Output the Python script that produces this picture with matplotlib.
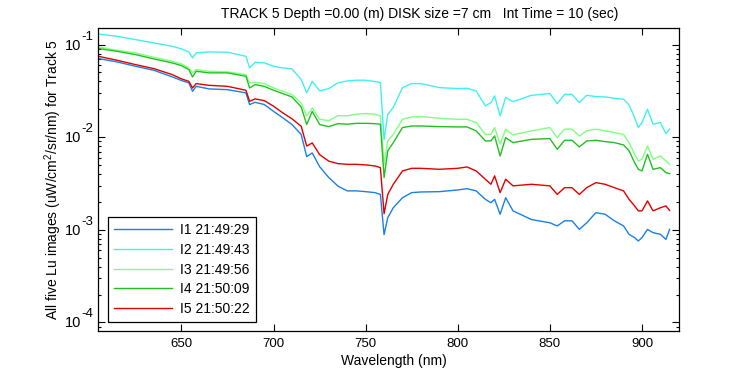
import matplotlib
matplotlib.use("Agg")
import matplotlib.pyplot as plt
import matplotlib.transforms as mtransforms
from matplotlib.ticker import LogLocator, FixedLocator, NullFormatter, NullLocator

plt.rcParams['font.family'] = ['Liberation Sans', 'DejaVu Sans']
plt.rcParams['mathtext.fontset'] = 'custom'
plt.rcParams['mathtext.rm'] = 'Liberation Sans'
plt.rcParams['mathtext.it'] = 'Liberation Sans'
plt.rcParams['mathtext.default'] = 'regular'

wavelength = [605, 615, 625, 635, 645, 650, 654, 656, 658, 665, 675, 685, 687, 690,
              695, 700, 705, 710, 715, 718, 721, 725, 730, 735, 740, 745, 750, 755,
              758, 760, 762, 765, 770, 775, 780, 790, 800, 805, 810, 815, 818, 820,
              823, 826, 830, 840, 850, 854, 858, 862, 866, 870, 875, 880, 885, 890,
              893, 896, 898, 900, 903, 906, 910, 913, 915]

i1 = [0.0706, 0.0650, 0.0583, 0.0528, 0.0448, 0.0409, 0.0386, 0.0313, 0.0354, 0.0332,
      0.0326, 0.0301, 0.0225, 0.0238, 0.0225, 0.0190, 0.0162, 0.0137, 0.0107, 0.00617,
      0.00676, 0.00481, 0.00366, 0.00296, 0.00263, 0.00263, 0.00258, 0.00252, 0.00241,
      0.000886, 0.00135, 0.00173, 0.00222, 0.00252, 0.00256, 0.00258, 0.00269, 0.00278,
      0.00263, 0.00213, 0.00196, 0.00213, 0.00147, 0.00222, 0.00160, 0.00129, 0.00119,
      0.00110, 0.00125, 0.00125, 0.00101, 0.00119, 0.00153, 0.00147, 0.00125, 0.00110,
      0.000893, 0.000823, 0.000757, 0.000823, 0.00101, 0.000931, 0.000893, 0.000788,
      0.00101]

i2 = [0.1298, 0.1229, 0.1132, 0.1043, 0.0959, 0.0899, 0.0834, 0.0718, 0.0813, 0.0834,
      0.0826, 0.0747, 0.0560, 0.0644, 0.0634, 0.0583, 0.0560, 0.0546, 0.0419, 0.0301,
      0.0401, 0.0316, 0.0335, 0.0386, 0.0405, 0.0412, 0.0412, 0.0399, 0.0389, 0.00941,
      0.01766, 0.0209, 0.0343, 0.0379, 0.0379, 0.0343, 0.0335, 0.0337, 0.0316, 0.0218,
      0.0236, 0.0279, 0.0170, 0.0268, 0.0242, 0.0283, 0.0296, 0.0230, 0.0290, 0.0290,
      0.0236, 0.0283, 0.0274, 0.0272, 0.0263, 0.0257, 0.0223, 0.0163, 0.0127, 0.0144,
      0.0200, 0.0138, 0.0144, 0.0109, 0.0122]

i3 = [0.0940, 0.0868, 0.0813, 0.0729, 0.0660, 0.0619, 0.0560, 0.0495, 0.0537, 0.0515,
      0.0507, 0.0474, 0.0386, 0.0391, 0.0379, 0.0340, 0.0313, 0.0288, 0.0234, 0.0169,
      0.0207, 0.0156, 0.0151, 0.0171, 0.0170, 0.0177, 0.0180, 0.0177, 0.0170, 0.00505,
      0.00911, 0.01074, 0.0156, 0.0166, 0.0167, 0.0160, 0.0156, 0.0156, 0.0144, 0.0107,
      0.0107, 0.0127, 0.00838, 0.0122, 0.0106, 0.0117, 0.0127, 0.00989, 0.0122, 0.0122,
      0.0103, 0.0117, 0.0122, 0.0117, 0.0112, 0.0107, 0.00873, 0.00653, 0.00554, 0.00577,
      0.00805, 0.00577, 0.00627, 0.00554, 0.00509]

i4 = [0.0905, 0.0846, 0.0780, 0.0700, 0.0634, 0.0593, 0.0537, 0.0448, 0.0515, 0.0495,
      0.0495, 0.0455, 0.0340, 0.0370, 0.0354, 0.0321, 0.0296, 0.0272, 0.0212, 0.0137,
      0.0190, 0.0137, 0.0130, 0.0140, 0.0138, 0.0141, 0.0141, 0.0140, 0.0138, 0.00366,
      0.00711, 0.00873, 0.0127, 0.0132, 0.0132, 0.0130, 0.0129, 0.0129, 0.0117, 0.00911,
      0.00911, 0.0103, 0.00627, 0.00989, 0.00873, 0.00948, 0.00965, 0.00740, 0.00925,
      0.00925, 0.00785, 0.00911, 0.00925, 0.00896, 0.00873, 0.00825, 0.00711, 0.00531,
      0.00450, 0.00432, 0.00653, 0.00450, 0.00469, 0.00414, 0.00404]

i5 = [0.0747, 0.0677, 0.0608, 0.0550, 0.0474, 0.0426, 0.0401, 0.0340, 0.0379, 0.0363,
      0.0354, 0.0321, 0.0244, 0.0259, 0.0248, 0.0216, 0.0183, 0.0158, 0.0131, 0.00801,
      0.00867, 0.00648, 0.00551, 0.00518, 0.00509, 0.00509, 0.00502, 0.00489, 0.00469,
      0.00149, 0.00241, 0.00310, 0.00432, 0.00461, 0.00461, 0.00450, 0.00461, 0.00477,
      0.00432, 0.00351, 0.00310, 0.00382, 0.00252, 0.00351, 0.00298, 0.00310, 0.00298,
      0.00241, 0.00285, 0.00285, 0.00241, 0.00285, 0.00323, 0.00310, 0.00285, 0.00263,
      0.00213, 0.00181, 0.00160, 0.00160, 0.00205, 0.00160, 0.00173, 0.00181, 0.00162]

labels = ['I1 21:49:29', 'I2 21:49:43', 'I3 21:49:56', 'I4 21:50:09', 'I5 21:50:22']
colors = ['#1a80e6', '#40f0f0', '#80ff80', '#20c020', '#e00000']
series = [i1, i2, i3, i4, i5]

y_decades = [1e-4, 1e-3, 1e-2, 1e-1]
y_exponents = ['-4', '-3', '-2', '-1']

fig = plt.figure(figsize=(7.5, 3.75), dpi=100)
ax = fig.add_axes([98 / 750, 1 - 331 / 375, 581 / 750, 303 / 375])

for vals, col, lab in zip(series, colors, labels):
    ax.plot(wavelength, vals, color=col, lw=1.0, label=lab)

ax.set_yscale('log')
ax.set_xlim(604.7, 920.1)
ax.set_ylim(8.07e-5, 0.151)
ax.xaxis.set_major_locator(FixedLocator([650, 700, 750, 800, 850, 900]))
ax.xaxis.set_minor_locator(NullLocator())
ax.yaxis.set_major_locator(FixedLocator(y_decades))
ax.yaxis.set_minor_locator(LogLocator(base=10, subs=range(2, 10), numticks=20))
ax.yaxis.set_minor_formatter(NullFormatter())
ax.yaxis.set_major_formatter(NullFormatter())

ax.tick_params(which='both', direction='in', top=True, right=True, labelsize=9.5,
               width=0.8, colors='black')
ax.tick_params(axis='x', which='major', pad=5)
ax.tick_params(which='major', length=5)
ax.tick_params(which='minor', length=2.5)
for s in ax.spines.values():
    s.set_linewidth(0.9)

# MATLAB-style decade labels: "10" with raised exponent
trans = mtransforms.blended_transform_factory(ax.transAxes, ax.transData)
for val, ex in zip(y_decades, y_exponents):
    t10 = mtransforms.offset_copy(trans, fig=fig, x=-17, y=-1, units='dots')
    ax.text(0, val, '10', transform=t10, ha='right', va='center', fontsize=10.5)
    tex = mtransforms.offset_copy(trans, fig=fig, x=-17, y=8, units='dots')
    ax.text(0, val, ex, transform=tex, ha='left', va='center', fontsize=9.5)

ax.set_title('TRACK 5 Depth =0.00 (m) DISK size =7 cm   Int Time = 10 (sec)',
             fontsize=10, pad=7, x=0.554)
ax.set_xlabel('Wavelength (nm)', fontsize=10, labelpad=3, x=0.51)
ax.set_ylabel('All five Lu images (uW/cm$^2$/sr/nm) for Track 5', fontsize=10, labelpad=21)

leg = ax.legend(loc='lower left', bbox_to_anchor=(0.0172, 0.0297), borderaxespad=0,
                fancybox=False, edgecolor='black', framealpha=1, fontsize=10,
                handlelength=4.2, labelspacing=0.42, borderpad=0.42, handletextpad=0.6)
leg.get_frame().set_linewidth(0.9)

fig.savefig('out.png', dpi=100)
